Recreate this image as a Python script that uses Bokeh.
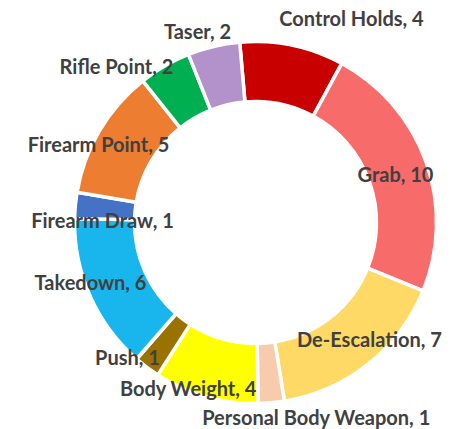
import math
from bokeh.plotting import figure
from bokeh.models import ColumnDataSource, Range1d
from bokeh.core.properties import value
from bokeh.embed import file_html
from bokeh.resources import INLINE

# ---- data ----
categories = ["Control Holds", "Grab", "De-Escalation", "Personal Body Weapon",
              "Body Weight", "Push", "Takedown", "Firearm Draw",
              "Firearm Point", "Rifle Point", "Taser"]
counts = [4, 10, 7, 1, 4, 1, 6, 1, 5, 2, 2]
colors = ["#C90000", "#F86B6B", "#FFD966", "#F8CBAD", "#FFFF00", "#9A7200",
          "#19B6EE", "#4472C4", "#ED7D31", "#00B050", "#B392CC"]

# ---- layout (image pixel coordinates) ----
W, H = 457, 429
cx, cy_img = 255, 222
r_in, r_out = 121, 181
first_slice_deg = -5.0  # clockwise from 12 o'clock

# label centres in image pixel coordinates (layout only)
label_pos = [(351, 17), (395, 173), (369, 338), (316, 416), (188, 387),
             (127, 356), (90, 281), (102, 219), (98, 143), (116, 65), (197, 30)]

total = sum(counts)
starts, ends = [], []
acc = 0
for c in counts:
    t1 = first_slice_deg + acc / total * 360.0
    t2 = first_slice_deg + (acc + c) / total * 360.0
    # convert clockwise-from-top to bokeh counterclockwise-from-x
    starts.append(math.radians(90 - t2))
    ends.append(math.radians(90 - t1))
    acc += c

src = ColumnDataSource(dict(cat=categories, val=counts, color=colors,
                            start=starts, end=ends))

p = figure(width=W, height=H, output_backend="svg", toolbar_location=None,
           x_range=Range1d(0, W), y_range=Range1d(0, H), min_border=0)
p.axis.visible = False
p.grid.visible = False
p.outline_line_color = None
p.background_fill_color = "white"
p.border_fill_color = "white"

p.annular_wedge(x=cx, y=H - cy_img, inner_radius=r_in, outer_radius=r_out,
                start_angle="start", end_angle="end", fill_color="color",
                line_color="white", line_width=3.5, source=src)

lab = ColumnDataSource(dict(
    x=[lp[0] for lp in label_pos],
    y=[H - lp[1] for lp in label_pos],
    text=[f"{c}, {v}" for c, v in zip(categories, counts)]))
p.text(x="x", y="y", text="text", source=lab, text_align="center",
       text_baseline="middle", text_font=value("Lato"), text_font_style="bold",
       text_font_size="20px", text_color="#404040")

open("out.html", "w").write(file_html(p, INLINE))
